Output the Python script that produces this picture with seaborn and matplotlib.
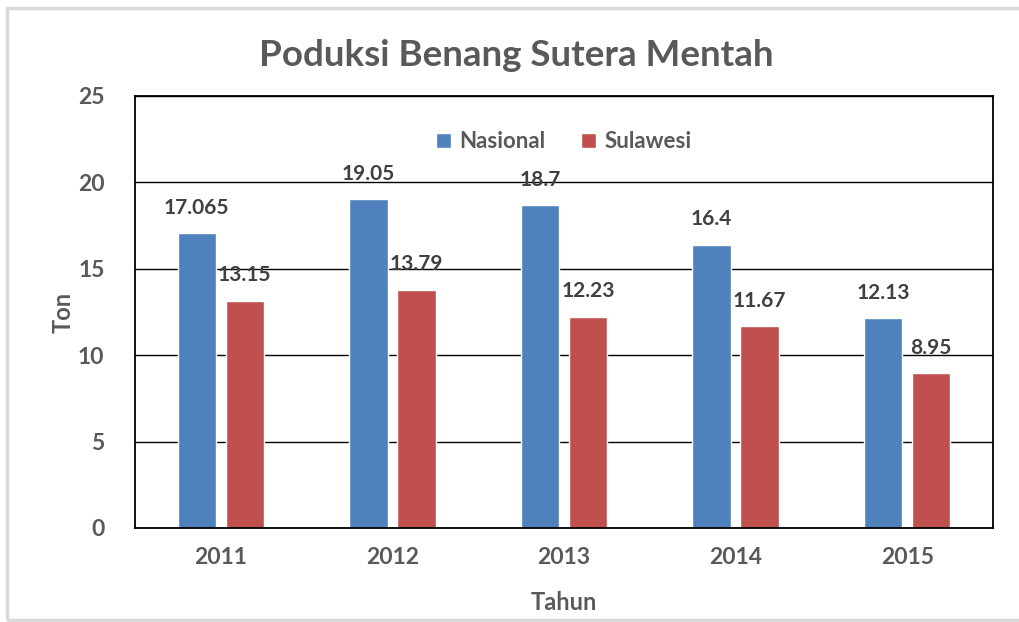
import matplotlib
matplotlib.use("Agg")
import matplotlib.pyplot as plt
import seaborn as sns
import pandas as pd
from matplotlib.patches import Rectangle

years = ["2011", "2012", "2013", "2014", "2015"]
nasional = [17.065, 19.05, 18.7, 16.4, 12.13]
sulawesi = [13.15, 13.79, 12.23, 11.67, 8.95]
labels_nas = ["17.065", "19.05", "18.7", "16.4", "12.13"]
labels_sul = ["13.15", "13.79", "12.23", "11.67", "8.95"]

df = pd.DataFrame({
    "Tahun": years * 2,
    "Ton": nasional + sulawesi,
    "Seri": ["Nasional"] * 5 + ["Sulawesi"] * 5,
})

sns.set_style("white")
plt.rcParams["font.family"] = ["Lato", "DejaVu Sans"]

gray = "#595959"
fig = plt.figure(figsize=(10.19, 6.22), dpi=100)
ax = fig.add_axes([135 / 1019, 1 - 528 / 622, (993 - 135) / 1019, (528 - 96) / 622])

sns.barplot(df, x="Tahun", y="Ton", hue="Seri", ax=ax,
            palette=["#4F81BD", "#C0504D"], width=0.56, gap=0.2,
            saturation=1, legend=True)

for cont, labs in zip(ax.containers, [labels_nas, labels_sul]):
    ax.bar_label(cont, labels=labs, padding=11, fontsize=15,
                 fontweight="bold", color="#404040")

ax.set_ylim(0, 25)
ax.set_yticks([0, 5, 10, 15, 20, 25])
ax.yaxis.grid(True, color="black", linewidth=1)
ax.set_axisbelow(True)
for s in ax.spines.values():
    s.set_visible(True)
    s.set_color("black")
    s.set_linewidth(1.3)
ax.tick_params(axis="both", length=0, labelsize=16.5, labelcolor=gray)
ax.tick_params(axis="y", pad=22)
ax.tick_params(axis="x", pad=14)
for t in ax.get_xticklabels() + ax.get_yticklabels():
    t.set_fontweight("bold")

ax.set_xlabel("Tahun", fontsize=17, fontweight="bold", color=gray, labelpad=16)
ax.set_ylabel("Ton", fontsize=17, fontweight="bold", color=gray, labelpad=2)

leg = ax.legend(loc="upper center", bbox_to_anchor=(0.5, 0.965), ncol=2,
                frameon=False, prop={"size": 16, "weight": "bold"},
                handlelength=0.65, handleheight=0.65,
                columnspacing=1.6, handletextpad=0.4)
for t in leg.get_texts():
    t.set_color(gray)

fig.text(0.507, 1 - 56 / 622, "Poduksi Benang Sutera Mentah", ha="center",
         va="center", fontsize=26.5, fontweight="bold", color=gray)

fig.patches.append(Rectangle((7 / 1019, 2 / 622), 1.2, 1 - 10 / 622,
                             transform=fig.transFigure, fill=False,
                             edgecolor="#D9D9D9", linewidth=2.5))

fig.savefig("out.png", dpi=100)
